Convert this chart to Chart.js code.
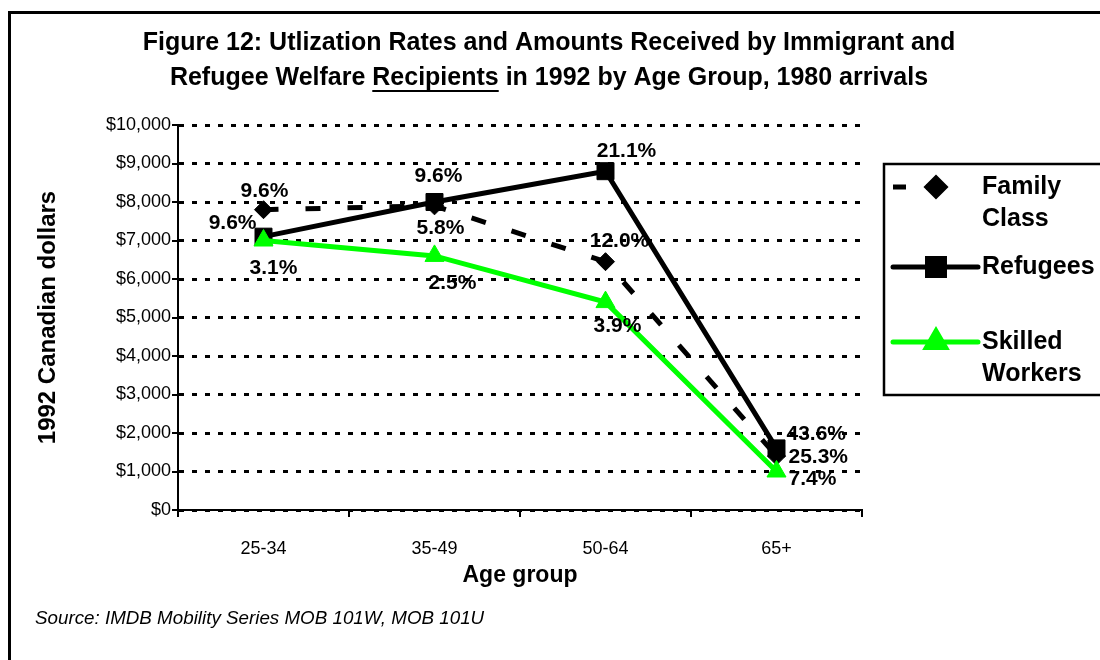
<!DOCTYPE html>
<html>
<head>
<meta charset="utf-8">
<script src="https://cdn.jsdelivr.net/npm/chart.js@4.4.0/dist/chart.umd.min.js"></script>
<style>
  html, body { margin: 0; padding: 0; background: #fff; }
  #wrap { width: 1100px; height: 660px; position: relative; }
</style>
</head>
<body>
<div id="wrap"><canvas id="chart"></canvas></div>
<script>
const ageGroups = ['25-34', '35-49', '50-64', '65+'];
const familyClass = [7800, 7900, 6450, 1400];
const refugees = [7100, 8000, 8800, 1600];
const skilledWorkers = [7000, 6600, 5400, 1000];
const familyRates = ['9.6%', '5.8%', '12.0%', '25.3%'];
const refugeeRates = ['9.6%', '9.6%', '21.1%', '43.6%'];
const skilledRates = ['3.1%', '2.5%', '3.9%', '7.4%'];

const titleLine1 = 'Figure 12: Utlization Rates and Amounts Received by Immigrant and';
const titleLine2 = ['Refugee Welfare ', 'Recipients', ' in 1992 by Age Group, 1980 arrivals'];
const sourceText = 'Source: IMDB Mobility Series MOB 101W, MOB 101U';
const legendLines = [['Family', 'Class'], ['Refugees'], ['Skilled', 'Workers']];

const FONT = 'Arial, "Liberation Sans", Helvetica, sans-serif';
const GREEN = '#00ff00';

// label offsets from each point: [dx, dy, align]
const labelPos = [
  [[1, -18, 'center'], [6, 22, 'center'], [14, -20, 'center'], [12, 1, 'left']],
  [[-7, -13, 'right'], [4, -26, 'center'], [21, -20, 'center'], [10, -14, 'left']],
  [[10, 28, 'center'], [18, 27, 'center'], [12, 24, 'center'], [12, 8, 'left']]
];

const decorPlugin = {
  id: 'decor',
  beforeDraw(chart) {
    const ctx = chart.ctx;
    ctx.save();
    ctx.fillStyle = '#fff';
    ctx.fillRect(0, 0, chart.width, chart.height);
    ctx.restore();
  },
  afterDraw(chart) {
    const ctx = chart.ctx;
    ctx.save();
    // outer frame
    ctx.strokeStyle = '#000';
    ctx.lineWidth = 3;
    ctx.strokeRect(9.5, 12.5, 1200, 800);

    // title
    ctx.fillStyle = '#000';
    ctx.font = 'bold 25px ' + FONT;
    ctx.textBaseline = 'middle';
    ctx.textAlign = 'center';
    ctx.fillText(titleLine1, 549, 43);
    const widths = titleLine2.map(t => ctx.measureText(t).width);
    let x = 549 - (widths[0] + widths[1] + widths[2]) / 2;
    ctx.textAlign = 'left';
    titleLine2.forEach((t, i) => {
      ctx.fillText(t, x, 78);
      if (i === 1) {
        ctx.fillRect(x, 90, widths[i], 2);
      }
      x += widths[i];
    });

    // source note
    ctx.font = 'italic 18.8px ' + FONT;
    ctx.fillText(sourceText, 35, 619);

    // inner y tick marks
    const ys = chart.scales.y;
    const left = chart.chartArea.left;
    ctx.lineWidth = 2;
    ys.ticks.forEach(t => {
      const y = Math.round(ys.getPixelForValue(t.value));
      ctx.beginPath();
      ctx.moveTo(left - 6, y);
      ctx.lineTo(left + 6, y);
      ctx.stroke();
    });

    // legend
    ctx.lineWidth = 2.5;
    ctx.strokeRect(884, 164, 400, 231);
    const rows = [187, 267, 342];
    ctx.font = 'bold 25px ' + FONT;
    chart.data.datasets.forEach((ds, i) => {
      const y = rows[i];
      ctx.save();
      ctx.strokeStyle = ds.borderColor;
      ctx.lineWidth = ds.borderWidth;
      ctx.lineCap = i === 0 ? 'butt' : 'round';
      ctx.setLineDash(i === 0 ? [13, 20] : []);
      ctx.beginPath();
      ctx.moveTo(893, y);
      ctx.lineTo(i === 0 ? 952 : 978, y);
      ctx.stroke();
      ctx.setLineDash([]);
      ctx.fillStyle = ds.borderColor;
      Chart.helpers.drawPoint(ctx, {
        pointStyle: ds.pointStyle, radius: ds.pointRadius, rotation: 0, borderWidth: 1
      }, 936, y);
      ctx.restore();
      ctx.fillStyle = '#000';
      legendLines[i].forEach((t, j) => ctx.fillText(t, 982, y + j * 32));
    });

    // data labels
    ctx.font = 'bold 21px ' + FONT;
    chart.data.datasets.forEach((ds, i) => {
      const meta = chart.getDatasetMeta(i);
      meta.data.forEach((pt, j) => {
        const [dx, dy, align] = labelPos[i][j];
        ctx.textAlign = align;
        ctx.fillText(ds.rates[j], pt.x + dx, pt.y + dy);
      });
    });
    ctx.restore();
  }
};

new Chart(document.getElementById('chart'), {
  type: 'line',
  data: {
    labels: ageGroups,
    datasets: [{
      label: 'Family Class',
      data: familyClass,
      rates: familyRates,
      borderColor: '#000',
      backgroundColor: '#000',
      borderWidth: 5,
      borderDash: [15, 27],
      pointStyle: 'rectRot',
      pointRadius: 9,
      pointBorderWidth: 1,
      order: 2
    }, {
      label: 'Refugees',
      data: refugees,
      rates: refugeeRates,
      borderColor: '#000',
      backgroundColor: '#000',
      borderWidth: 5,
      pointStyle: 'rect',
      pointRadius: 12,
      pointBorderWidth: 1,
      order: 1
    }, {
      label: 'Skilled Workers',
      data: skilledWorkers,
      rates: skilledRates,
      borderColor: GREEN,
      backgroundColor: GREEN,
      borderWidth: 5,
      pointStyle: 'triangle',
      pointRadius: 11,
      pointBorderWidth: 1,
      order: 0
    }]
  },
  options: {
    responsive: true,
    maintainAspectRatio: false,
    animation: false,
    layout: { padding: { left: 0, right: 238, top: 125, bottom: 0 } },
    plugins: {
      legend: { display: false },
      title: { display: false },
      tooltip: { enabled: false }
    },
    scales: {
      x: {
        offset: true,
        afterFit: s => { s.height = 150; },
        grid: { display: true, drawOnChartArea: false, offset: true, tickLength: 7, color: '#000', lineWidth: 2 },
        border: { display: true, color: '#000', width: 2 },
        ticks: { color: '#000', font: { family: FONT, size: 18 }, padding: 21 },
        title: { display: true, text: 'Age group', color: '#000', font: { family: FONT, size: 23, weight: 'bold' }, padding: { top: 0, bottom: 71 } }
      },
      y: {
        min: 0,
        max: 10000,
        afterFit: s => { s.width = 178; },
        ticks: {
          stepSize: 1000,
          color: '#000',
          font: { family: FONT, size: 18 },
          padding: 7,
          callback: v => '$' + v.toLocaleString('en-US')
        },
        grid: { color: '#000', lineWidth: 3, drawTicks: false },
        border: { display: true, color: '#000', width: 2, dash: [5, 8] },
        title: { display: true, text: '1992 Canadian dollars', color: '#000', font: { family: FONT, size: 24, weight: 'bold' }, padding: { top: 34 } }
      }
    }
  },
  plugins: [decorPlugin]
});
</script>
</body>
</html>
